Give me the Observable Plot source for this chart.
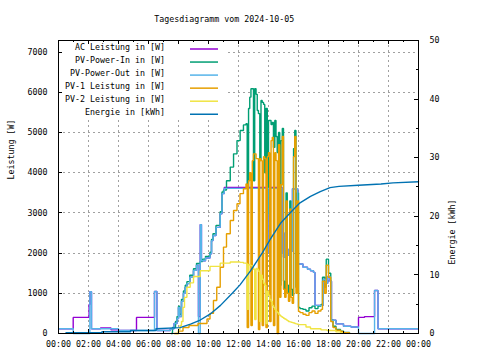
<!DOCTYPE html>
<html><head><meta charset="utf-8">
<script src="https://cdn.jsdelivr.net/npm/d3@7"></script>
<script src="https://cdn.jsdelivr.net/npm/@observablehq/plot@0.6"></script>
<style>html,body{margin:0;padding:0;background:#fff}</style>
</head><body><div id="chart"></div>
<script>
// ---------- labels / ticks ----------
const title = "Tagesdiagramm vom 2024-10-05";
const yLabel = "Leistung [W]";
const y2Label = "Energie [kWh]";
const seriesNames = ["AC Leistung in [W]","PV-Power-In in [W]","PV-Power-Out in [W]","PV-1 Leistung in [W]","PV-2 Leistung in [W]","Energie in [kWh]"];
const seriesColors = ["#9400d3","#009e73","#56b4e9","#e69f00","#f0e442","#0072b2"];
const xTicks = [0,2,4,6,8,10,12,14,16,18,20,22,24];
const xTickLabels = ["00:00","02:00","04:00","06:00","08:00","10:00","12:00","14:00","16:00","18:00","20:00","22:00","00:00"];
const yTicks = [0,1000,2000,3000,4000,5000,6000,7000];
const y2Ticks = [0,10,20,30,40,50];
const yMax = 7290;   // W at top of left axis
const y2Max = 50;    // kWh at top of right axis

// ---------- series (time in hours, value) ----------
const acTime = [0,0.98,2.04,2.09,2.2,2.8,3.5,4.0,5.2,6.4,6.56,7.45,7.7,7.9,8.0,8.07,8.2,8.33,8.45,8.56,8.75,9.0,9.2,9.33,9.45,9.53,9.8,10.1,10.2,10.3,10.5,10.78,10.9,11.05,13.92,13.97,14.9,15.0,15.1,15.15,15.3,15.45,15.6,15.95,16.3,16.6,16.8,17.0,17.1,17.65,17.8,17.95,18.1,18.2,18.5,19.0,19.5,20.0,20.4,21.07,21.3,24];
const acW   = [117,400,720,1040,117,135,90,75,400,1045,75,117,250,370,650,420,800,1000,1150,1240,1400,1570,1700,420,2710,1810,1880,1980,2310,2440,2640,2980,3480,3635,2000,3635,2000,1900,2500,2100,1950,2050,3600,1730,1650,1600,1560,1520,700,1350,1250,1420,1300,330,240,180,160,400,420,1070,117,117];

const pvOutTime = [0,0.98,2.09,2.2,4.0,6.4,6.56,7.45,7.7,7.9,8.0,8.07,8.2,8.33,8.45,8.56,8.75,9.0,9.2,9.33,9.45,9.53,9.8,10.1,10.2,10.3,10.5,10.78,10.9,11.05,13.92,13.97,14.9,15.0,15.1,15.15,15.3,15.45,15.6,15.95,16.3,16.6,16.8,17.0,17.1,17.65,17.8,17.95,18.1,18.2,18.5,19.0,19.5,20.0,21.07,21.3,24];
const pvOutW   = [117,0,1040,117,75,1045,75,117,250,370,650,420,800,1000,1150,1240,1400,1570,1700,0,2710,1810,1880,1980,2310,2440,2640,2980,3480,3610,2000,3610,2000,1900,2500,2100,1950,2050,3600,1730,1650,1600,1560,1520,700,1350,1250,1420,1300,330,240,180,160,0,1070,117,117];

const pvInTime = [7.5,7.6,7.8,7.9,8.0,8.07,8.2,8.33,8.45,8.56,8.75,9.0,9.2,9.45,9.6,9.8,10.1,10.2,10.3,10.5,10.78,10.9,11.0,11.2,11.45,11.67,11.9,12.11,12.33,
  12.5,12.58,12.67,12.75,12.83,12.92,13.0,13.08,13.17,13.25,13.33,13.42,13.5,13.58,13.67,13.75,13.83,13.92,14.0,14.08,14.17,14.25,14.33,14.42,14.5,14.58,14.67,14.75,14.83,14.92,15.0,15.08,15.17,15.25,15.33,15.42,15.5,15.58,15.67,15.75,15.83,15.92,16.0,
  16.1,16.3,16.5,16.7,16.9,17.1,17.3,17.5,17.6,17.75,17.85,18.0,18.15,18.3,18.5,18.8,19.0,19.4];
const pvInW = [0,150,300,420,680,480,850,1060,1200,1290,1450,1610,1740,1790,1850,1920,2020,2340,2480,2690,3030,3520,3570,3800,4140,4470,4800,5050,5190,
  5220,3640,5600,5880,6090,6090,3800,6090,5950,5550,5470,4300,5800,5750,5700,4000,5600,2980,5300,5300,5200,5250,4630,5300,4900,4500,5000,1200,4800,5100,1300,1100,3500,1200,1000,3300,1100,950,4600,5050,1150,3500,650,
  620,600,560,640,680,620,680,720,1400,1150,1850,1500,340,180,100,60,25,0];

const pv1Time = [7.7,8.0,8.3,8.7,9.3,9.9,10.1,10.33,10.55,10.78,11.0,11.2,11.45,11.67,11.9,12.1,12.33,
  12.5,12.58,12.67,12.75,12.83,12.92,13.0,13.08,13.17,13.25,13.33,13.42,13.5,13.58,13.67,13.75,13.83,13.92,14.0,14.08,14.17,14.25,14.33,14.42,14.5,14.58,14.67,14.75,14.83,14.92,15.0,15.08,15.17,15.25,15.33,15.42,15.5,15.58,15.67,15.75,15.83,15.92,16.0,
  16.1,16.3,16.5,16.7,16.9,17.1,17.3,17.5,17.6,17.75,17.85,18.0,18.15,18.3,18.5,18.8,19.0,19.4];
const pv1W = [0,60,150,200,250,360,500,820,1150,1650,2150,2480,2810,3060,3230,3480,3600,
  3720,150,3800,4000,200,4300,4470,4470,4350,4350,100,4350,4300,200,4400,4350,150,4400,4500,300,4800,4880,200,4500,4300,0,4700,900,3700,4900,1100,900,3300,1000,800,3100,900,750,4400,4900,1000,3300,550,
  520,480,450,520,560,500,560,600,1300,1000,1700,1400,300,150,80,50,20,0];

const pv2Time = [7.78,8.0,8.1,8.2,8.3,8.4,8.56,8.78,9.0,9.45,10.1,10.78,11.45,12.1,12.33,
  12.5,12.58,12.67,12.75,12.83,12.92,13.0,13.08,13.17,13.25,13.33,13.42,13.5,13.58,13.67,13.75,13.83,13.92,14.0,14.08,14.17,14.25,14.33,14.42,14.5,14.58,14.67,14.75,14.83,14.92,15.0,15.08,15.17,15.25,15.33,15.42,15.5,15.58,15.67,15.75,15.83,15.92,16.0,
  16.5,16.8,17.5,17.9,18.5,18.8,19.0];
const pv2W = [0,100,200,300,650,900,1150,1260,1420,1560,1670,1750,1780,1770,1750,
  1740,600,1720,1700,1690,1650,1600,350,1620,1600,1550,300,1450,1350,1250,1200,250,1050,950,850,800,700,650,600,550,520,480,450,420,400,380,360,340,320,300,290,280,270,260,250,240,230,220,
  160,120,90,75,40,20,0];

const energyTime = [0.5,2.9,2.9,4.8,4.8,6.5,6.5,8.1,8.8,9.45,10.1,10.8,11.6,12.1,12.8,13.6,14.1,14.8,15.45,16.1,16.8,17.45,18.1,18.7,20.0,21.5,22.3,24];
const energyKWh  = [0.15,0.15,0.3,0.3,0.5,0.5,0.8,1.0,1.6,2.3,3.3,4.8,6.9,8.3,10.7,13.8,16.0,18.8,20.6,22.3,23.4,24.2,24.9,25.1,25.3,25.5,25.7,25.9];

// ---------- build ----------
const k = yMax / y2Max;
const rows = (ts, vs) => ts.map((t, i) => ({t, v: vs[i]}));
const powerSeries = [
  rows(acTime, acW), rows(pvInTime, pvInW), rows(pvOutTime, pvOutW),
  rows(pv1Time, pv1W), rows(pv2Time, pv2W)
];
const energyRows = rows(energyTime, energyKWh);

const FONT = "DejaVu Sans Mono";
const FS = 8.3;

function gridBackdrop(index, scales, values, dim) {
  const g = d3.create("svg:g");
  g.append("rect").attr("x", dim.marginLeft + 1).attr("y", dim.marginTop + 1)
    .attr("width", 167).attr("height", 79).attr("fill", "white");
  return g.node();
}

function tickMarks(index, {x, y}, values, dim) {
  const left = dim.marginLeft, right = dim.width - dim.marginRight;
  const top = dim.marginTop, bottom = dim.height - dim.marginBottom;
  const g = d3.create("svg:g").attr("stroke", "black").attr("stroke-width", 1).attr("shape-rendering", "crispEdges");
  for (let h = 0; h <= 24; h++) {
    const px = Math.round(x(h)) + 0.5, len = h % 2 === 0 ? 4 : 2;
    g.append("line").attr("x1", px).attr("x2", px).attr("y1", bottom).attr("y2", bottom - len);
    g.append("line").attr("x1", px).attr("x2", px).attr("y1", top).attr("y2", top + len);
  }
  for (const v of yTicks) {
    const py = Math.round(y(v)) + 0.5;
    g.append("line").attr("x1", left).attr("x2", left + 4).attr("y1", py).attr("y2", py);
  }
  for (let e = 0; e <= y2Max; e += 5) {
    const py = Math.round(y(e * k)) + 0.5, len = e % 10 === 0 ? 4 : 2;
    g.append("line").attr("x1", right).attr("x2", right - len).attr("y1", py).attr("y2", py);
  }
  return g.node();
}

function legend(index, scales, values, dim) {
  const g = d3.create("svg:g").attr("font-family", FONT).attr("font-size", FS);
  seriesNames.forEach((name, i) => {
    const yl = 49 + i * 13.05;
    g.append("text").attr("x", 165).attr("y", yl + 1.2).attr("text-anchor", "end").attr("fill", "black").text(name);
    g.append("line").attr("x1", 190).attr("x2", 218).attr("y1", yl).attr("y2", yl)
      .attr("stroke", seriesColors[i]).attr("stroke-width", 1.5);
  });
  return g.node();
}

const gridStyle = {stroke: "#a0a0a0", strokeOpacity: 1, strokeDasharray: "2,3", strokeWidth: 1, shapeRendering: "crispEdges"};

const chart = Plot.plot({
  width: 480, height: 360,
  marginLeft: 58, marginRight: 62, marginTop: 40, marginBottom: 27,
  style: {fontFamily: FONT, fontSize: FS + "px", background: "white", color: "black"},
  x: {domain: [0, 24], axis: null},
  y: {domain: [0, yMax], axis: null},
  marks: [
    Plot.ruleY(yTicks.filter(v => v > 0), {y: d => d, ...gridStyle}),
    Plot.ruleX(xTicks.filter(v => v > 0 && v < 24), {x: d => d, ...gridStyle}),
    gridBackdrop,
    ...powerSeries.map((data, i) => Plot.line(data, {x: "t", y: "v", stroke: seriesColors[i], strokeWidth: 1.4, curve: "step-after", strokeLinejoin: "miter", strokeLinecap: "butt"})),
    Plot.line(energyRows, {x: "t", y: d => d.v * k, stroke: seriesColors[5], strokeWidth: 1.4, curve: "linear"}),
    Plot.frame({stroke: "black", strokeWidth: 1, shapeRendering: "crispEdges"}),
    tickMarks,
    Plot.text(yTicks, {y: d => d, text: d => String(d), frameAnchor: "left", textAnchor: "end", dx: -11, fontSize: FS}),
    Plot.text(y2Ticks, {y: d => d * k, text: d => String(d), frameAnchor: "right", textAnchor: "start", dx: 11, fontSize: FS}),
    Plot.text(xTicks, {x: d => d, text: (d, i) => xTickLabels[i], frameAnchor: "bottom", lineAnchor: "top", dy: 8, fontSize: FS}),
    Plot.text([yLabel], {text: d => d, frameAnchor: "left", rotate: -90, dx: -47, dy: -7.5, fontSize: FS}),
    Plot.text([y2Label], {text: d => d, frameAnchor: "right", rotate: -90, dx: 34, dy: 12.5, fontSize: FS}),
    Plot.text([title], {text: d => d, frameAnchor: "top", lineAnchor: "bottom", dx: -14.3, dy: -19, fontSize: FS}),
    legend
  ]
});
document.getElementById("chart").appendChild(chart);
</script>
</body></html>
